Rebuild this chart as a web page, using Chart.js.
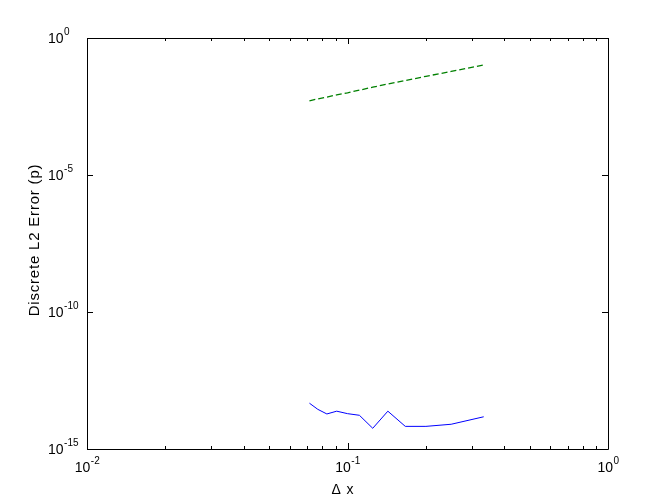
<!DOCTYPE html>
<html>
<head>
<meta charset="utf-8">
<script src="https://cdn.jsdelivr.net/npm/chart.js@4/dist/chart.umd.min.js"></script>
<style>
  html, body { margin: 0; padding: 0; background: #fff; }
  #wrap { width: 672px; height: 504px; }
</style>
</head>
<body>
<div id="wrap"><canvas id="grafica" width="672" height="504"></canvas></div>
<script>
// grid sizes dx = 1/n, n = 14 .. 3
const dx = [1/14, 1/13, 1/12, 1/11, 1/10, 1/9, 1/8, 1/7, 1/6, 1/5, 1/4, 1/3];

// discrete L2 error (p)
const errorA = [4.7e-14, 2.8e-14, 1.9e-14, 2.4e-14, 1.95e-14, 1.7e-14,
                5.7e-15, 2.4e-14, 6.7e-15, 6.7e-15, 8.0e-15, 1.5e-14];
const errorB = [5.1e-3, 6.0e-3, 7.0e-3, 8.4e-3, 1.0e-2, 1.25e-2,
                1.6e-2, 2.1e-2, 2.8e-2, 4.0e-2, 6.0e-2, 1.04e-1];

// ticks
const xTicks = [1e-2, 1e-1, 1e0];
const xTickExp = ["-2", "-1", "0"];
const xMinor = [2, 3, 4, 5, 6, 7, 8, 9];
const yTicks = [1e0, 1e-5, 1e-10, 1e-15];
const yTickExp = ["0", "-5", "-10", "-15"];

const xTitle = "\u0394 x";
const yTitle = "Discrete L2 Error (p)";

const FONT = "Helvetica, 'Liberation Sans', Arial, sans-serif";

function pts(ys) {
  return dx.map((x, i) => ({ x: x, y: ys[i] }));
}

// draws "10" with a raised exponent
function pow10(c, exp, x, y, align) {
  c.font = "14px " + FONT;
  const wb = c.measureText("10").width;
  c.font = "10px " + FONT;
  const we = c.measureText(exp).width;
  let x0 = x;
  if (align === "center") x0 = x - (wb + we) / 2;
  c.textAlign = "left";
  c.textBaseline = "alphabetic";
  c.font = "14px " + FONT;
  c.fillText("10", x0, y);
  c.font = "10px " + FONT;
  c.fillText(exp, x0 + wb + 0.5, y - 8);
}

// box, inward ticks, labels
const ejes = {
  id: "ejes",
  afterDraw(chart) {
    const c = chart.ctx;
    const a = chart.chartArea;
    const sx = chart.scales.x;
    const sy = chart.scales.y;
    c.save();
    c.strokeStyle = "#000";
    c.fillStyle = "#000";
    c.lineWidth = 1;
    c.beginPath();
    c.rect(Math.round(a.left) + 0.5, Math.round(a.top) + 0.5,
           Math.round(a.right - a.left), Math.round(a.bottom - a.top));

    // x ticks (major + minor), bottom and top
    for (let d = 0; d < xTicks.length; d++) {
      const px = Math.round(sx.getPixelForValue(xTicks[d])) + 0.5;
      c.moveTo(px, a.bottom); c.lineTo(px, a.bottom - 6);
      c.moveTo(px, a.top); c.lineTo(px, a.top + 6);
      if (d < xTicks.length - 1) {
        xMinor.forEach(m => {
          const q = Math.round(sx.getPixelForValue(xTicks[d] * m)) + 0.5;
          c.moveTo(q, a.bottom); c.lineTo(q, a.bottom - 3);
          c.moveTo(q, a.top); c.lineTo(q, a.top + 3);
        });
      }
    }
    // y ticks, left and right
    yTicks.forEach(v => {
      const py = Math.round(sy.getPixelForValue(v)) + 0.5;
      c.moveTo(a.left, py); c.lineTo(a.left + 6, py);
      c.moveTo(a.right, py); c.lineTo(a.right - 6, py);
    });
    c.stroke();

    xTicks.forEach((v, i) => {
      pow10(c, xTickExp[i], sx.getPixelForValue(v), 472, "center");
    });
    yTicks.forEach((v, i) => {
      pow10(c, yTickExp[i], 48, sy.getPixelForValue(v) + 5, "left");
    });

    c.font = "14px " + FONT;
    c.textAlign = "center";
    c.textBaseline = "alphabetic";
    c.letterSpacing = "1px";
    c.fillText(xTitle, 343, 494);

    c.save();
    c.translate(39, 240);
    c.rotate(-Math.PI / 2);
    c.font = "15px " + FONT;
    c.letterSpacing = "0.8px";
    c.fillText(yTitle, 0, 0);
    c.restore();
    c.restore();
  }
};

const ctx = document.getElementById("grafica").getContext("2d");

const chart = new Chart(ctx, {
  type: "line",
  data: {
    datasets: [
      {
        label: "error A",
        data: pts(errorA),
        borderColor: "#0000ff",
        borderWidth: 1,
        pointRadius: 0,
        tension: 0
      },
      {
        label: "error B",
        data: pts(errorB),
        borderColor: "#008000",
        borderWidth: 1.3,
        borderDash: [6, 3],
        pointRadius: 0,
        tension: 0
      }
    ]
  },
  options: {
    responsive: false,
    animation: false,
    layout: { padding: { left: 87, right: 64, top: 38, bottom: 55 } },
    plugins: { legend: { display: false }, tooltip: { enabled: false } },
    scales: {
      x: { type: "logarithmic", min: 1e-2, max: 1, display: false },
      y: { type: "logarithmic", min: 1e-15, max: 1, display: false }
    }
  },
  plugins: [ejes]
});
</script>
</body>
</html>
